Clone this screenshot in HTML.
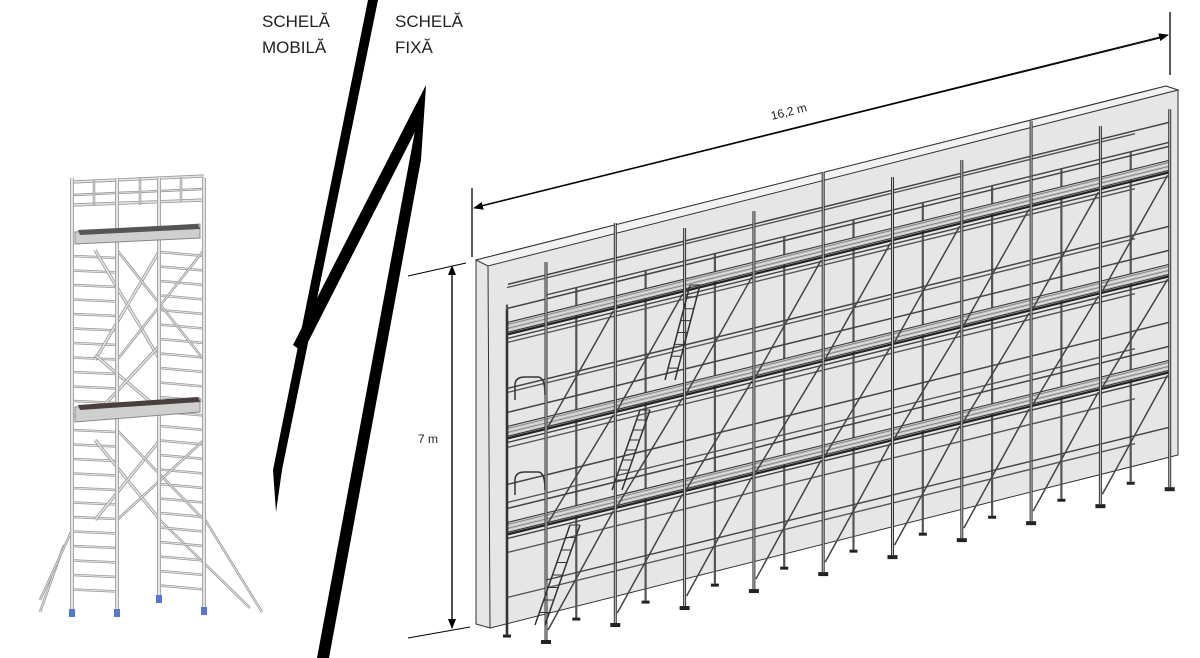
<!DOCTYPE html>
<html><head><meta charset="utf-8"><style>
html,body{margin:0;padding:0;background:#fff;width:1200px;height:658px;overflow:hidden}
.t{position:absolute;font-family:"Liberation Sans",sans-serif;font-size:17px;color:#222;line-height:26px}
</style></head><body>
<div class="t" style="left:262px;top:9px">SCHELĂ<br>MOBILĂ</div>
<div class="t" style="left:395px;top:9px">SCHELĂ<br>FIXĂ</div>
<svg id="s" width="1200" height="658" style="position:absolute;left:0;top:0" xmlns="http://www.w3.org/2000/svg">
<defs>
<marker id="ar" markerWidth="10" markerHeight="8" refX="9" refY="4" orient="auto" markerUnits="userSpaceOnUse"><path d="M0,0 L10,4 L0,8 z" fill="#000"/></marker>
</defs>
<polygon points="368,0 378,0 282,470 276,512 273,470" fill="#000"/>
<polygon points="293,345 426,85 421,120 303,352" fill="#000"/>
<polygon points="417,120 426,86 421,160 329,658 317,658" fill="#000"/>
<polygon points="476,260 1166,86 1178,90 1178,455 490,628 476,624" fill="#e6e6e6" stroke="#333" stroke-width="1"/>
<polygon points="476,260 1166,86 1178,90 488,266" fill="#f2f2f2" stroke="#333" stroke-width="1"/>
<line x1="488" y1="266" x2="490" y2="628" stroke="#333" stroke-width="1"/>
<line x1="472" y1="188" x2="472" y2="257" stroke="#000" stroke-width="1.3"/>
<line x1="1170" y1="12" x2="1170" y2="75" stroke="#000" stroke-width="1.3"/>
<line x1="1160" y1="38" x2="474" y2="208" stroke="#000" stroke-width="1" marker-end="url(#ar)"/>
<line x1="480" y1="206" x2="1168" y2="35" stroke="#000" stroke-width="1" marker-end="url(#ar)"/>
<text x="772" y="120" font-family="Liberation Sans,sans-serif" font-size="12" transform="rotate(-14 772 120)" fill="#222">16,2 m</text>
<line x1="408" y1="276" x2="466" y2="263" stroke="#000" stroke-width="1"/>
<line x1="408" y1="638" x2="470" y2="627" stroke="#000" stroke-width="1"/>
<line x1="452" y1="270" x2="452" y2="628" stroke="#000" stroke-width="1.2" marker-end="url(#ar)"/>
<line x1="452" y1="620" x2="452" y2="266" stroke="#000" stroke-width="1.2" marker-end="url(#ar)"/>
<text x="418" y="443" font-family="Liberation Sans,sans-serif" font-size="12" fill="#222">7 m</text>
<g id="sc"></g>
<g id="mt"></g>
</svg>
<script>
(function(){
var NS="http://www.w3.org/2000/svg";
function el(g,n,a){var e=document.createElementNS(NS,n);for(var k in a)e.setAttribute(k,a[k]);g.appendChild(e);return e;}
function L(g,x1,y1,x2,y2,c,w){el(g,"line",{x1:x1,y1:y1,x2:x2,y2:y2,stroke:c||"#333","stroke-width":w||1.2});}
var g=document.getElementById("sc");
var S=-0.245;
function yAt(base,x){return base+S*(x-546);}
[290,345,395,450,505,555,600].forEach(function(by){by-=12;L(g,507,yAt(by,507),1135,yAt(by,1135),"#555",1.4);});
for(var i=0;i<10;i++){var x=507+69.3*i;L(g,x,yAt(300,x)-5,x,yAt(625,x),"#555",2.2);el(g,"rect",{x:x-4,y:yAt(625,x),width:8,height:3,fill:"#222"});}
[323,427,523].forEach(function(d){
 var xa=508,xb=1170;
 el(g,"polygon",{points:xa+","+yAt(d-10,xa)+" "+xb+","+yAt(d-10,xb)+" "+xb+","+yAt(d,xb)+" "+xa+","+yAt(d,xa),fill:"#c4c4c4",stroke:"#333","stroke-width":1});
 for(var k=0;k<4;k++){L(g,xa,yAt(d-8+k*2,xa),xb,yAt(d-8+k*2,xb),k%2?"#eee":"#777",0.7);}
 L(g,xa,yAt(d+2,xa),xb,yAt(d+2,xb),"#222",2.2);
 L(g,xa,yAt(d+6,xa),xb,yAt(d+6,xb),"#444",1.4);
 L(g,xa,yAt(d-24,xa),xb,yAt(d-24,xb),"#444",1.5);
 L(g,xa,yAt(d-48,xa),xb,yAt(d-48,xb),"#444",1.5);
});
for(var i=0;i<10;i++){var x=546+69.3*i;var tp=yAt(i%3==1?245:262,x)-(i%3==1?5:0);
 L(g,x,tp,x,yAt(640,x),"#333",3);L(g,x,tp,x,yAt(640,x),"#ccc",1);
 el(g,"rect",{x:x-5,y:yAt(640,x),width:10,height:4,fill:"#222"});
 if(i<9){(function(x){var x2=x+69.3;
  [[323,427],[427,523],[523,630]].forEach(function(p){L(g,x+2,yAt(p[1],x),x2-2,yAt(p[0]+5,x2),"#444",1.5);});
  L(g,x,yAt(295,x),x2,yAt(295,x2),"#444",1.4);
  L(g,x,yAt(580,x),x2,yAt(580,x2),"#444",1.4);})(x);
 }}
L(g,507,yAt(300,507),507,yAt(625,507),"#333",2.5);
[[515,385],[515,480]].forEach(function(p){el(g,"path",{d:"M"+p[0]+","+(p[1]+15)+" L"+p[0]+","+p[1]+" Q"+p[0]+","+(p[1]-8)+" 525,"+(p[1]-8)+" L538,"+(p[1]-8)+" Q545,"+(p[1]-8)+" 545,"+(p[1]+10),fill:"none",stroke:"#333","stroke-width":1.5});});
[[690,285,665,380],[640,410,612,490],[570,525,535,625]].forEach(function(l){L(g,l[0],l[1],l[2],l[3],"#333",1.5);L(g,l[0]+10,l[1],l[2]+10,l[3],"#333",1.5);for(var t=0;t<8;t++){var f=t/8;L(g,l[0]+(l[2]-l[0])*f,l[1]+(l[3]-l[1])*f,l[0]+10+(l[2]-l[0])*f,l[1]+(l[3]-l[1])*f,"#333",1);}});
var m=document.getElementById("mt");
function P(x1,y1,x2,y2,w){L(m,x1,y1,x2,y2,"#999",w||3.2);L(m,x1,y1,x2,y2,"#e4e4e4",(w||3.2)-1.6);}
P(64,545,40,612,2.5);P(72,530,40,600,2.5);P(204,518,262,612,2.5);P(160,520,250,608,2.5);
for(var y=256;y<600;y+=14.5){P(73,y,117,y+2,2.6);P(160,y-4,204,y,2.6);}
P(73,182,204,176);P(73,205,204,200);P(73,195,204,189,2.4);
P(95,250,160,360);P(160,250,95,360);P(95,355,160,410);P(160,345,95,415);
P(117,250,204,360,2.6);P(204,250,117,360,2.6);P(95,440,160,520);P(160,440,95,520);P(117,430,204,520,2.6);P(204,440,117,520,2.6);
[72,117,159,204].forEach(function(x,i){P(x,178,x,i<2?612:(i==2?598:610),4);});
P(94,180,94,205,2.5);P(140,178,140,205,2.5);P(181,177,181,202,2.5);
el(m,"polygon",{points:"75,232 200,224 200,238 75,244",fill:"#cfcfcf",stroke:"#888"});
el(m,"polygon",{points:"78,230 198,224 200,229 80,235",fill:"#555"});
el(m,"polygon",{points:"75,407 200,398 200,412 75,422",fill:"#cfcfcf",stroke:"#888"});
el(m,"polygon",{points:"78,405 198,397 200,402 80,410",fill:"#4a3e3e"});
[[72,612],[117,612],[159,598],[204,610]].forEach(function(p){el(m,"rect",{x:p[0]-3,y:p[1]-3,width:6,height:8,fill:"#5577cc"});});
})();
</script>
</body></html>
